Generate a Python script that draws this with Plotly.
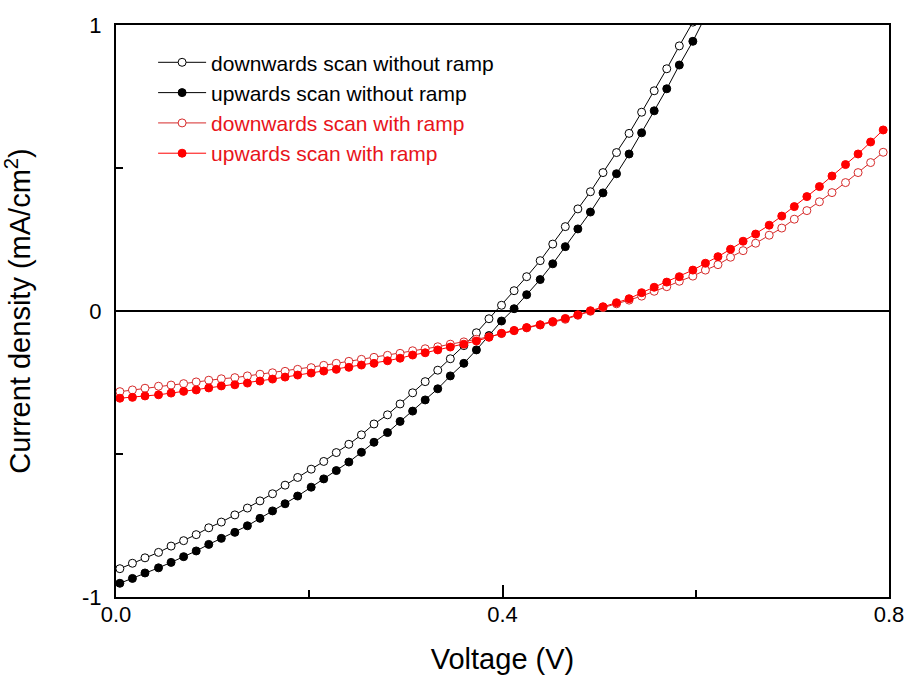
import plotly.graph_objects as go

voltage = [0.004, 0.017, 0.030, 0.044, 0.057, 0.070, 0.083, 0.096, 0.109, 0.123,
           0.136, 0.149, 0.162, 0.175, 0.188, 0.202, 0.215, 0.228, 0.241, 0.254,
           0.267, 0.281, 0.294, 0.307, 0.320, 0.333, 0.346, 0.360, 0.373, 0.386,
           0.399, 0.412, 0.425, 0.439, 0.452, 0.465, 0.478, 0.491, 0.504, 0.518,
           0.531, 0.544, 0.557, 0.570, 0.583, 0.597, 0.610, 0.623, 0.636, 0.649,
           0.662, 0.676, 0.689, 0.702, 0.715, 0.728, 0.741, 0.755, 0.768, 0.781, 0.794]

down_no_ramp = [-0.901, -0.882, -0.863, -0.844, -0.822, -0.803, -0.782, -0.758, -0.738, -0.713,
                -0.689, -0.664, -0.639, -0.609, -0.582, -0.553, -0.526, -0.495, -0.466, -0.433,
                -0.395, -0.363, -0.325, -0.286, -0.247, -0.207, -0.167, -0.121, -0.076, -0.027,
                0.020, 0.071, 0.120, 0.176, 0.234, 0.295, 0.357, 0.417, 0.484, 0.554,
                0.621, 0.695, 0.770, 0.847, 0.927, 1.010]

up_no_ramp = [-0.952, -0.935, -0.916, -0.898, -0.879, -0.859, -0.839, -0.816, -0.795, -0.774,
              -0.751, -0.725, -0.699, -0.674, -0.647, -0.616, -0.587, -0.558, -0.528, -0.494,
              -0.459, -0.425, -0.386, -0.350, -0.311, -0.272, -0.227, -0.183, -0.136, -0.086,
              -0.035, 0.008, 0.057, 0.110, 0.165, 0.225, 0.287, 0.346, 0.413, 0.480,
              0.549, 0.623, 0.700, 0.777, 0.860, 0.943, 1.030]

down_ramp = [-0.282, -0.276, -0.270, -0.263, -0.259, -0.254, -0.248, -0.242, -0.237, -0.233,
             -0.227, -0.221, -0.216, -0.211, -0.204, -0.198, -0.190, -0.183, -0.176, -0.169,
             -0.162, -0.155, -0.148, -0.139, -0.132, -0.125, -0.116, -0.108, -0.099, -0.090,
             -0.079, -0.069, -0.059, -0.049, -0.039, -0.029, -0.015, -0.001, 0.012, 0.025,
             0.038, 0.052, 0.069, 0.085, 0.104, 0.122, 0.143, 0.162, 0.188, 0.211,
             0.237, 0.265, 0.290, 0.321, 0.351, 0.382, 0.414, 0.449, 0.484, 0.519, 0.555]

up_ramp = [-0.305, -0.302, -0.297, -0.293, -0.287, -0.281, -0.276, -0.269, -0.262, -0.258,
           -0.252, -0.245, -0.238, -0.231, -0.224, -0.217, -0.210, -0.204, -0.197, -0.189,
           -0.183, -0.174, -0.165, -0.154, -0.146, -0.136, -0.126, -0.116, -0.105, -0.092,
           -0.078, -0.068, -0.058, -0.048, -0.037, -0.026, -0.013, 0.001, 0.015, 0.029,
           0.043, 0.064, 0.083, 0.101, 0.120, 0.143, 0.167, 0.190, 0.216, 0.244,
           0.269, 0.300, 0.332, 0.365, 0.400, 0.435, 0.472, 0.512, 0.549, 0.591, 0.633]

names = ["downwards scan without ramp", "upwards scan without ramp",
         "downwards scan with ramp", "upwards scan with ramp"]

RED = "#ff0000"
RED_OPEN = "#d62a2a"
FONT = "Arial, Liberation Sans, sans-serif"

fig = go.Figure()
fig.add_trace(go.Scatter(
    x=voltage[:len(down_no_ramp)], y=down_no_ramp, mode="lines+markers", name=names[0],
    line=dict(color="black", width=1),
    marker=dict(symbol="circle", size=8, color="white", line=dict(color="black", width=1))))
fig.add_trace(go.Scatter(
    x=voltage[:len(up_no_ramp)], y=up_no_ramp, mode="lines+markers", name=names[1],
    line=dict(color="black", width=1),
    marker=dict(symbol="circle", size=8, color="black", line=dict(color="black", width=1))))
fig.add_trace(go.Scatter(
    x=voltage, y=down_ramp, mode="lines+markers",
    name="<span style='color:#e8141b'>" + names[2] + "</span>",
    line=dict(color=RED_OPEN, width=1),
    marker=dict(symbol="circle", size=8, color="white", line=dict(color=RED_OPEN, width=1))))
fig.add_trace(go.Scatter(
    x=voltage, y=up_ramp, mode="lines+markers",
    name="<span style='color:#e8141b'>" + names[3] + "</span>",
    line=dict(color=RED, width=1),
    marker=dict(symbol="circle", size=8, color=RED, line=dict(color=RED, width=1))))

fig.update_layout(
    width=907, height=675,
    margin=dict(l=116, r=18, t=25, b=78),
    paper_bgcolor="white", plot_bgcolor="white",
    font=dict(family=FONT, size=20, color="black"),
    showlegend=True,
    legend=dict(x=0.048, y=0.97, xanchor="left", yanchor="top",
                bgcolor="rgba(0,0,0,0)", borderwidth=0,
                font=dict(family=FONT, size=21, color="black"),
                itemwidth=48, tracegroupgap=0),
    xaxis=dict(
        range=[0, 0.8], tickvals=[0, 0.4, 0.8], ticktext=["0.0", "0.4", "0.8"],
        ticks="inside", ticklen=12, tickwidth=2, tickcolor="black",
        minor=dict(tickvals=[0.2, 0.6], ticks="inside", ticklen=7, tickwidth=2, tickcolor="black"),
        showline=True, linecolor="black", linewidth=2, mirror=True,
        showgrid=False, zeroline=False, automargin=False,
        tickfont=dict(family=FONT, size=22), ticklabelstandoff=-3,
        title=dict(text="Voltage (V)", font=dict(family=FONT, size=29), standoff=38),
    ),
    yaxis=dict(
        range=[-1, 1], tickvals=[-1, 0, 1], ticktext=["-1", "0", "1"],
        ticks="inside", ticklen=12, tickwidth=2, tickcolor="black",
        minor=dict(tickvals=[-0.5, 0.5], ticks="inside", ticklen=7, tickwidth=2, tickcolor="black"),
        showline=True, linecolor="black", linewidth=2, mirror=True,
        showgrid=False, zeroline=True, zerolinecolor="black", zerolinewidth=2, automargin=False,
        tickfont=dict(family=FONT, size=22), ticklabelstandoff=8,
        title=dict(text="Current density (mA/cm<sup>2</sup>)", font=dict(family=FONT, size=29), standoff=46),
    ),
)

fig.write_html("out.html")
